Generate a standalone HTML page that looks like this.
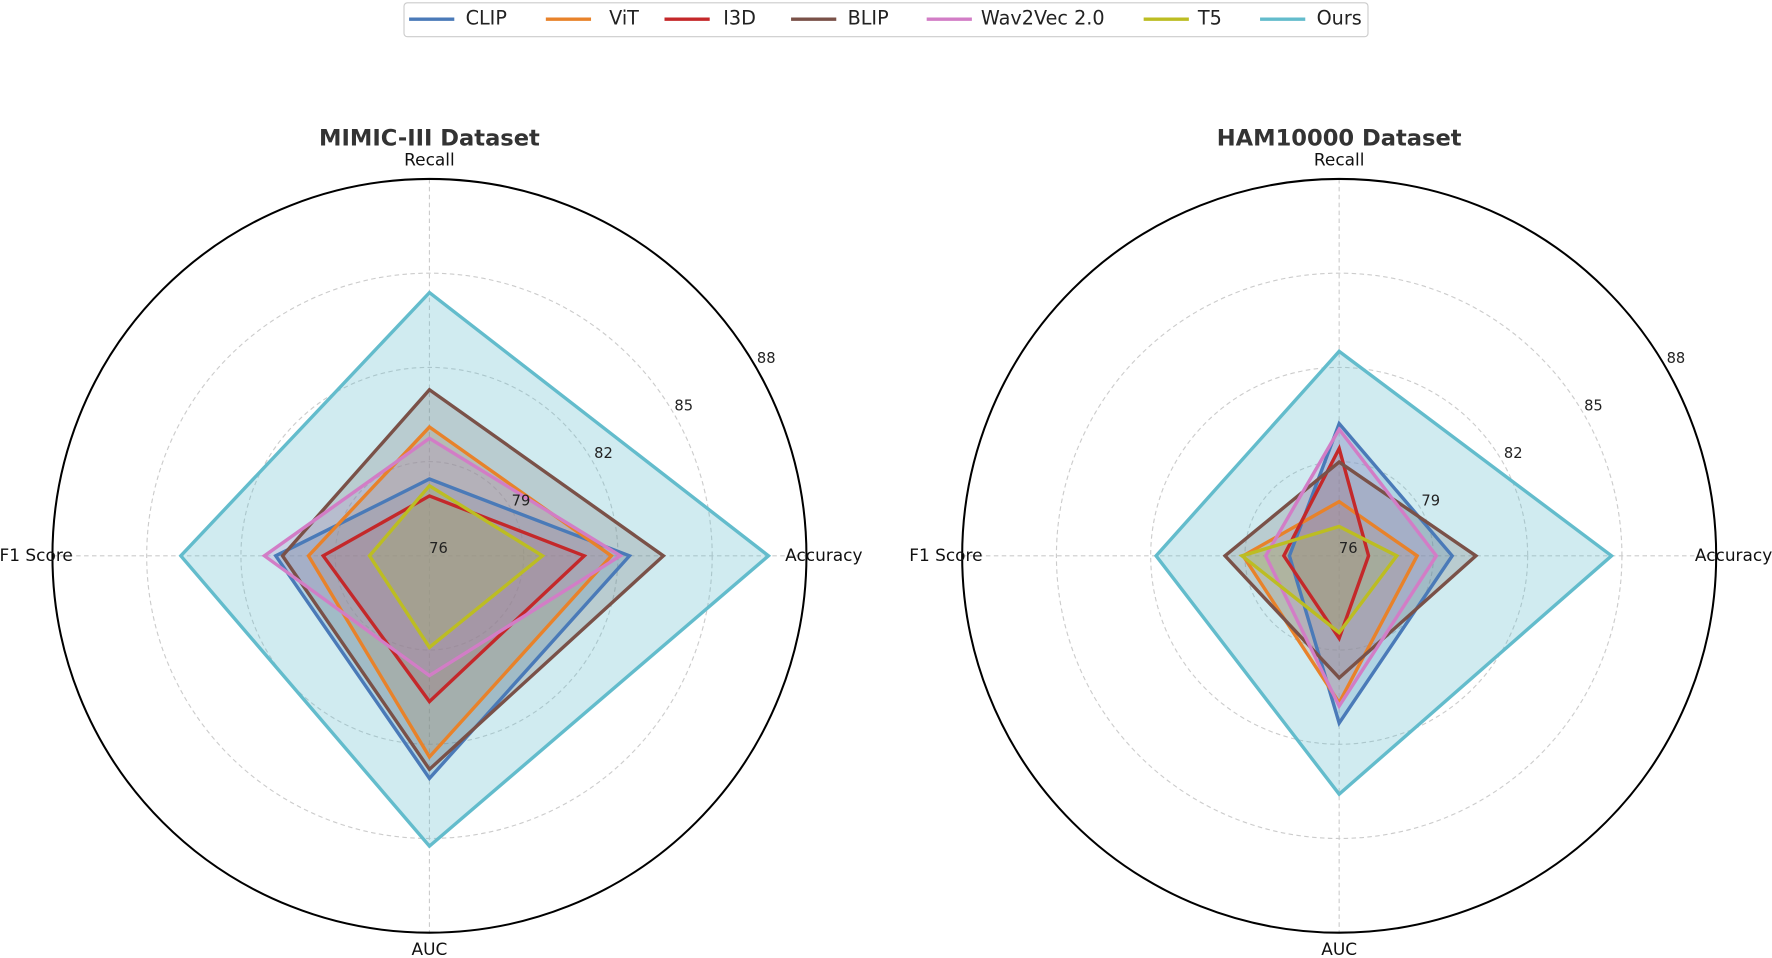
<!DOCTYPE html>
<html><head><meta charset="utf-8"><style>html,body{margin:0;padding:0;background:#fff}svg{display:block}</style></head>
<body>
<svg width="1772" height="958" viewBox="0 0 1568 848" preserveAspectRatio="none" xmlns="http://www.w3.org/2000/svg" font-family="DejaVu Sans, Liberation Sans, sans-serif">
<defs>
<g id="grid">
<circle cx="0" cy="0" r="83.4" fill="none" stroke="#ccc" stroke-dasharray="4,3" stroke-width="1"/>
<circle cx="0" cy="0" r="166.8" fill="none" stroke="#ccc" stroke-dasharray="4,3" stroke-width="1"/>
<circle cx="0" cy="0" r="250.2" fill="none" stroke="#ccc" stroke-dasharray="4,3" stroke-width="1"/>
<line x1="0" y1="-333.6" x2="0" y2="333.6" stroke="#ccc" stroke-dasharray="4,3"/>
<line x1="-333.6" y1="0" x2="333.6" y2="0" stroke="#ccc" stroke-dasharray="4,3"/>
<circle cx="0" cy="0" r="333.6" fill="none" stroke="#000" stroke-width="1.8"/>
</g>
</defs>
<g transform="translate(380,492)"><use href="#grid"/></g>
<g transform="translate(1185,492)"><use href="#grid"/></g>

<!-- fills -->
<g stroke="none" fill-opacity="0.25">
<polygon points="380,424 557,492 380,689 244,492" fill="#4a7ab8"/>
<polygon points="380,378 541,492 380,670 273,492" fill="#e8822a"/>
<polygon points="380,439 517,492 380,621 286,492" fill="#c4282a"/>
<polygon points="380,345 587,492 380,681 250,492" fill="#7a5148"/>
<polygon points="380,388 549,492 380,598 234,492" fill="#d27dc6"/>
<polygon points="380,430 480,492 380,573 327,492" fill="#bcbd22"/>
<polygon points="380,259 680,492 380,749 160,492" fill="#63bccc" fill-opacity="0.3"/>
<polygon points="1185,375 1285,492 1185,640 1141,492" fill="#4a7ab8"/>
<polygon points="1185,444 1254,492 1185,622 1100,492" fill="#e8822a"/>
<polygon points="1185,397 1211,492 1185,565 1136,492" fill="#c4282a"/>
<polygon points="1185,409 1306,492 1185,600 1084,492" fill="#7a5148"/>
<polygon points="1185,380 1271,492 1185,625 1120,492" fill="#d27dc6"/>
<polygon points="1185,466 1236,492 1185,560 1099,492" fill="#bcbd22"/>
<polygon points="1185,311 1426,492 1185,703 1023,492" fill="#63bccc" fill-opacity="0.3"/>
</g>
<!-- lines -->
<g stroke-width="3" fill="none">
<polygon points="380,424 557,492 380,689 244,492" stroke="#4a7ab8"/>
<polygon points="380,378 541,492 380,670 273,492" stroke="#e8822a"/>
<polygon points="380,439 517,492 380,621 286,492" stroke="#c4282a"/>
<polygon points="380,345 587,492 380,681 250,492" stroke="#7a5148"/>
<polygon points="380,388 549,492 380,598 234,492" stroke="#d27dc6"/>
<polygon points="380,430 480,492 380,573 327,492" stroke="#bcbd22"/>
<polygon points="380,259 680,492 380,749 160,492" stroke="#63bccc"/>
<polygon points="1185,375 1285,492 1185,640 1141,492" stroke="#4a7ab8"/>
<polygon points="1185,444 1254,492 1185,622 1100,492" stroke="#e8822a"/>
<polygon points="1185,397 1211,492 1185,565 1136,492" stroke="#c4282a"/>
<polygon points="1185,409 1306,492 1185,600 1084,492" stroke="#7a5148"/>
<polygon points="1185,380 1271,492 1185,625 1120,492" stroke="#d27dc6"/>
<polygon points="1185,466 1236,492 1185,560 1099,492" stroke="#bcbd22"/>
<polygon points="1185,311 1426,492 1185,703 1023,492" stroke="#63bccc"/>
</g>

<g font-size="13" fill="#222" text-anchor="middle" dominant-baseline="middle">
<text x="388" y="486">76</text><text x="461" y="444">79</text><text x="534" y="402">82</text><text x="605" y="360">85</text><text x="678" y="318">88</text>
<text x="1193" y="486">76</text><text x="1266" y="444">79</text><text x="1339" y="402">82</text><text x="1410" y="360">85</text><text x="1483" y="318">88</text>
</g>
<g font-size="15" fill="#111" text-anchor="middle" dominant-baseline="middle">
<text x="380" y="142">Recall</text><text x="729" y="492">Accuracy</text><text x="380" y="841">AUC</text><text x="32" y="492">F1 Score</text>
<text x="1185" y="142">Recall</text><text x="1534" y="492">Accuracy</text><text x="1185" y="841">AUC</text><text x="837" y="492">F1 Score</text>
</g>
<g font-size="20" font-weight="bold" fill="#333" text-anchor="middle" dominant-baseline="middle">
<text x="380" y="123">MIMIC-III Dataset</text>
<text x="1185" y="123">HAM10000 Dataset</text>
</g>

<rect x="357.5" y="2.5" width="853" height="30" rx="3" fill="#fff" stroke="#ccc"/>
<g stroke-width="3">
<line x1="362" y1="17" x2="402" y2="17" stroke="#4a7ab8"/>
<line x1="483" y1="17" x2="523" y2="17" stroke="#e8822a"/>
<line x1="588" y1="17" x2="628" y2="17" stroke="#c4282a"/>
<line x1="700" y1="17" x2="740" y2="17" stroke="#7a5148"/>
<line x1="820" y1="17" x2="860" y2="17" stroke="#d27dc6"/>
<line x1="1012" y1="17" x2="1052" y2="17" stroke="#bcbd22"/>
<line x1="1115" y1="17" x2="1155" y2="17" stroke="#63bccc"/>
</g>
<g font-size="17" fill="#222" dominant-baseline="middle">
<text x="412" y="17">CLIP</text><text x="539" y="17">ViT</text><text x="640" y="17">I3D</text><text x="750" y="17">BLIP</text><text x="868" y="17">Wav2Vec 2.0</text><text x="1060" y="17">T5</text><text x="1165" y="17">Ours</text>
</g>
</svg>
</body></html>
